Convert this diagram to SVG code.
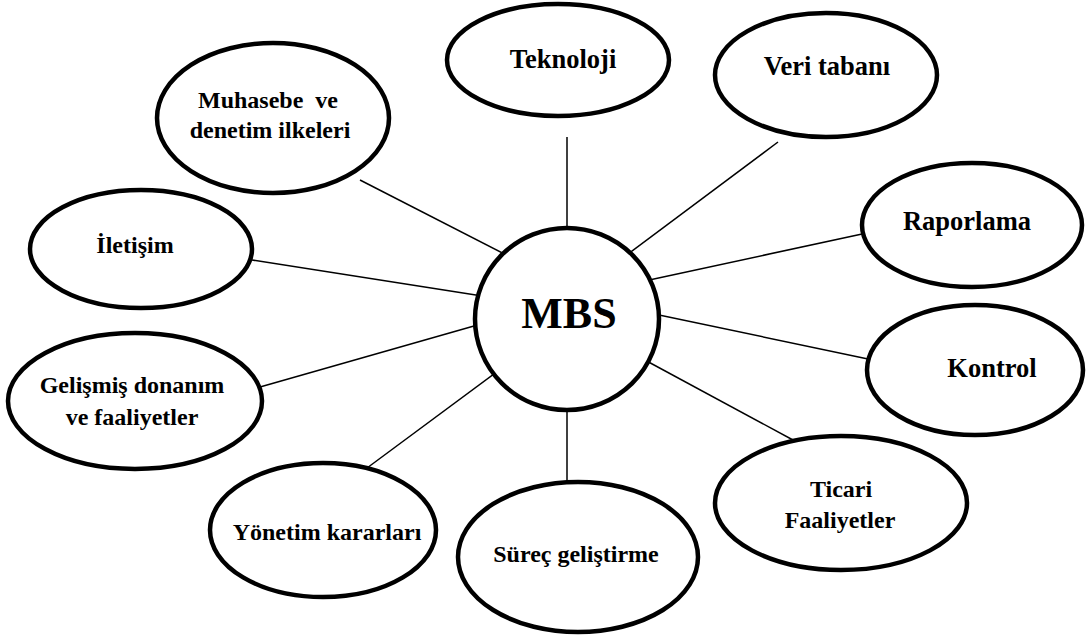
<svg xmlns="http://www.w3.org/2000/svg" width="1086" height="635" viewBox="0 0 1086 635">
  <style>
    .node { fill: #ffffff; stroke: #000000; stroke-width: 4.5; }
    .link { stroke: #000000; stroke-width: 1.5; fill: none; }
    .lbl { font-family: "Liberation Serif", "Times New Roman", serif; font-weight: bold; font-size: 24px; fill: #000000; text-anchor: middle; white-space: pre; }
    .big { font-size: 26.5px; }
    .hub { font-size: 44px; }
  </style>
  <rect width="1086" height="635" fill="#ffffff"/>

  <!-- spokes from the hub to each surrounding topic -->
  <g id="connectors">
    <line class="link" x1="360" y1="180" x2="520" y2="262"/>
    <line class="link" x1="567" y1="137" x2="567" y2="240"/>
    <line class="link" x1="778" y1="142" x2="620" y2="260"/>
    <line class="link" x1="876" y1="231" x2="640" y2="282"/>
    <line class="link" x1="252" y1="260" x2="495" y2="298"/>
    <line class="link" x1="868" y1="359" x2="640" y2="311"/>
    <line class="link" x1="260" y1="387" x2="495" y2="320"/>
    <line class="link" x1="793" y1="440" x2="630" y2="352"/>
    <line class="link" x1="367" y1="468" x2="510" y2="362"/>
    <line class="link" x1="567" y1="482" x2="567" y2="395"/>
  </g>

  <g id="mbs">
    <ellipse class="node" cx="567" cy="319" rx="92" ry="91"/>
    <text class="lbl hub" x="569" y="328">MBS</text>
  </g>

  <g id="teknoloji">
    <ellipse class="node" cx="558" cy="60" rx="111" ry="56"/>
    <text class="lbl big" x="563" y="68">Teknoloji</text>
  </g>

  <g id="veri-tabani">
    <ellipse class="node" cx="826" cy="75" rx="111" ry="62"/>
    <text class="lbl big" x="827" y="75">Veri tabanı</text>
  </g>

  <g id="muhasebe">
    <ellipse class="node" cx="273" cy="118" rx="116" ry="75"/>
    <text class="lbl" x="268" y="108">Muhasebe  ve</text>
    <text class="lbl" x="270" y="138">denetim ilkeleri</text>
  </g>

  <g id="iletisim">
    <ellipse class="node" cx="141" cy="249" rx="111" ry="59"/>
    <text class="lbl" x="135" y="253">İletişim</text>
  </g>

  <g id="raporlama">
    <ellipse class="node" cx="972" cy="225" rx="110" ry="62"/>
    <text class="lbl big" x="967" y="230">Raporlama</text>
  </g>

  <g id="gelismis">
    <ellipse class="node" cx="135" cy="401" rx="127" ry="68"/>
    <text class="lbl" x="132" y="393">Gelişmiş donanım</text>
    <text class="lbl" x="132" y="425">ve faaliyetler</text>
  </g>

  <g id="kontrol">
    <ellipse class="node" cx="975" cy="370" rx="108" ry="65"/>
    <text class="lbl big" x="992" y="377">Kontrol</text>
  </g>

  <g id="ticari">
    <ellipse class="node" cx="841" cy="503" rx="126" ry="67"/>
    <text class="lbl" x="841" y="497">Ticari</text>
    <text class="lbl" x="840" y="528">Faaliyetler</text>
  </g>

  <g id="yonetim">
    <ellipse class="node" cx="323" cy="530" rx="113" ry="67"/>
    <text class="lbl" x="327" y="540">Yönetim kararları</text>
  </g>

  <g id="surec">
    <ellipse class="node" cx="578" cy="557" rx="120" ry="75"/>
    <text class="lbl" x="576" y="562">Süreç geliştirme</text>
  </g>
</svg>
